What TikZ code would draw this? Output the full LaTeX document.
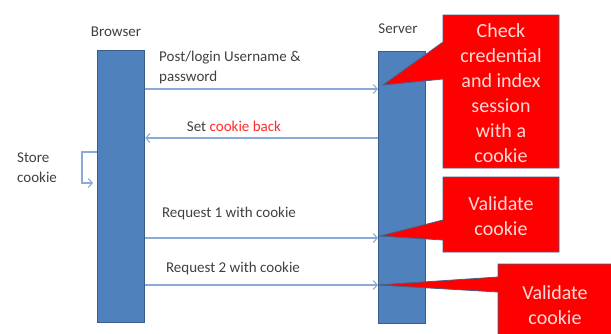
\documentclass[tikz,border=0pt]{standalone}
\usepackage{fontspec}
\setmainfont{Carlito}
\usetikzlibrary{arrows.meta}
\definecolor{barfill}{HTML}{4F81BD}
\definecolor{barline}{HTML}{385D8A}
\definecolor{msgline}{HTML}{8AAAD8}
\definecolor{labelgray}{HTML}{404040}
\definecolor{callred}{HTML}{FF0000}
\definecolor{callline}{HTML}{41618C}
\definecolor{calltext}{HTML}{FFD9D9}
\definecolor{redtext}{HTML}{FF2A2A}
\begin{document}
\begin{tikzpicture}[x=1pt,y=-1pt,
 bar/.style={draw=barline,fill=barfill,line width=1.2pt,minimum width=47pt,minimum height=272pt,inner sep=0,anchor=north west},
 msg/.style={draw=msgline,line width=1.1pt,-{Straight Barb[length=4pt,width=9pt]}},
 lbl/.style={text=labelgray,font=\fontsize{15}{20}\selectfont,inner sep=0},
 callout/.style={fill=callred,draw=callline,line width=0.8pt,line join=miter},
 ctext/.style={text=calltext,font=\fontsize{20}{25}\selectfont,align=center,inner sep=0}]
\useasboundingbox (0,0) rectangle (611,333);
\clip (0,0) rectangle (611,333);
% lifelines
\node[bar] (browser) at (97,50) {};
\node[bar] (server) at (378,51) {};
% labels
\node[lbl] (browserlbl) at (116,32) {Browser};
\node[lbl] (serverlbl) at (398,29) {Server};
% messages
\coordinate (m1) at (0,89);
\coordinate (m2) at (0,138);
\coordinate (m3) at (0,238);
\coordinate (m4) at (0,285);
\coordinate (s1) at (0,152);
\coordinate (s2) at (0,183);
\draw[msg] (browser.east |- m1) -- (server.west |- m1);
\draw[msg] (server.west |- m2) -- (browser.east |- m2);
\draw[msg] (browser.west |- s1) -- ++(-15,0) |- ([xshift=-4pt]browser.west |- s2);
\draw[msg] (browser.east |- m3) -- (server.west |- m3);
\draw[msg] (browser.east |- m4) -- (server.west |- m4);
\node[lbl,anchor=west,align=left] (postlbl) at (159,67) {Post/login Username \&\\password};
\node[lbl] (setlbl) at (234,126) {Set \textcolor{redtext}{cookie back}};
\node[lbl,anchor=west,align=left] (storelbl) at (17,168) {Store\\cookie};
\node[lbl] (req1) at (229,213) {Request 1 with cookie};
\node[lbl] (req2) at (233,268) {Request 2 with cookie};
% callouts
\draw[callout] (443,15) -- (559,15) -- (559,168) -- (443,168) -- (443,79) -- (383,85) -- (443,42) -- cycle;
\node[ctext] (c1) at (501,93) {Check\\credential\\and index\\session\\with a\\cookie};
\draw[callout] (443,177) -- (559,177) -- (559,252) -- (443,252) -- (443,240) -- (380,236) -- (443,220) -- cycle;
\node[ctext] (c2) at (501,216) {Validate\\cookie};
\draw[callout] (498,264) -- (622,264) -- (622,345) -- (498,345) -- (498,292) -- (378,285) -- (498,277) -- cycle;
\node[ctext] (c3) at (555,305) {Validate\\cookie};
\end{tikzpicture}
\end{document}
